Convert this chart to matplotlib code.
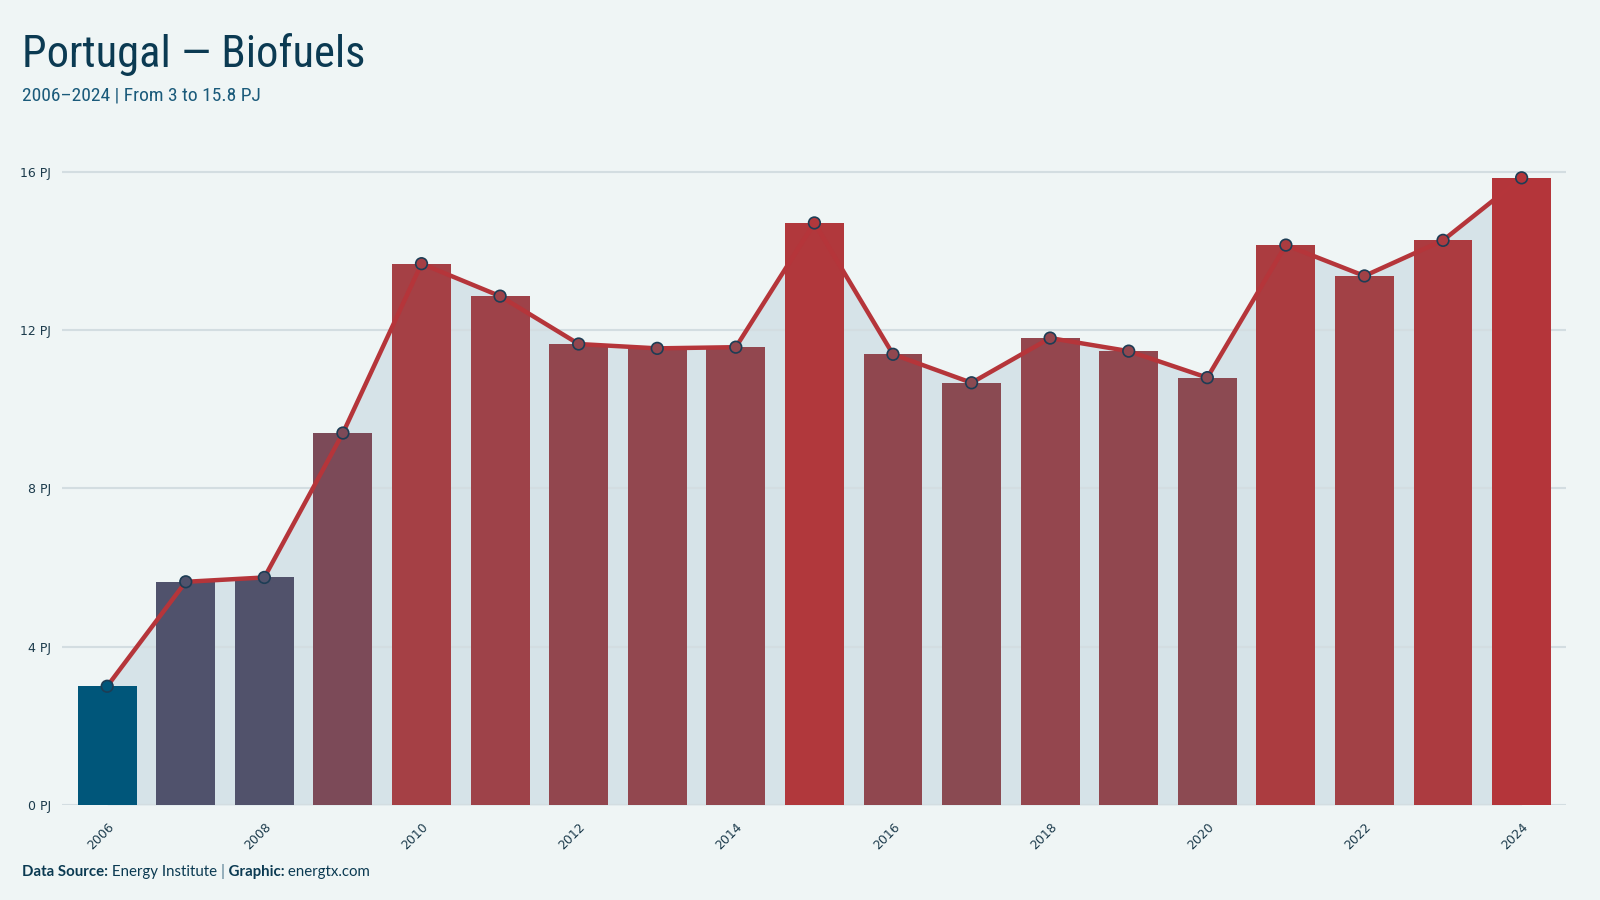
import numpy as np
import matplotlib
matplotlib.use("Agg")
import matplotlib.pyplot as plt
from matplotlib.colors import LinearSegmentedColormap, Normalize

# Data
years = [2006, 2007, 2008, 2009, 2010, 2011, 2012, 2013, 2014, 2015,
         2016, 2017, 2018, 2019, 2020, 2021, 2022, 2023, 2024]
biofuels_pj = [3.0, 5.64, 5.75, 9.40, 13.68, 12.86, 11.65, 11.54, 11.57, 14.71,
               11.39, 10.67, 11.80, 11.47, 10.80, 14.15, 13.37, 14.27, 15.85]
y_ticks = [0, 4, 8, 12, 16]
x_ticks = [2006, 2008, 2010, 2012, 2014, 2016, 2018, 2020, 2022, 2024]

BG = "#eff5f5"
NAVY = "#0b3a52"
LINE_RED = "#b5353a"
FILL = "#d6e3e8"

cmap = LinearSegmentedColormap.from_list(
    "blue_red",
    [(0.0, "#00567a"), (0.2, "#4f526c"), (0.5, "#7c4a58"), (0.6, "#8b4a52"),
     (0.68, "#93464e"), (0.83, "#a54045"), (0.92, "#b2373b"), (1.0, "#b4353a")],
)
norm = Normalize(min(biofuels_pj), max(biofuels_pj))
bar_colors = [cmap(norm(v)) for v in biofuels_pj]

fig = plt.figure(figsize=(16, 9), dpi=100, facecolor=BG)
ax = fig.add_axes([0.039, 0.1056, 0.94, 0.721])
ax.set_facecolor(BG)

# area under the line
ax.fill_between(years, biofuels_pj, 0, color=FILL, zorder=1, linewidth=0)

# grid
for t in y_ticks:
    ax.axhline(t, color="#d3dde1", linewidth=1.5, zorder=2)

ax.bar(years, biofuels_pj, width=0.75, color=bar_colors, zorder=3, linewidth=0)
ax.plot(years, biofuels_pj, color=LINE_RED, linewidth=3.2, zorder=4,
        solid_capstyle="round")
ax.scatter(years, biofuels_pj, s=70, c=bar_colors, edgecolors="#1d3d55",
           linewidths=1.2, zorder=5)

ax.set_xlim(2005.43, 2024.57)
ax.set_ylim(0, 16.4)
ax.set_yticks(y_ticks)
ax.set_yticklabels([f"{t} PJ" for t in y_ticks])
ax.set_xticks(x_ticks)
ax.set_xticklabels([str(x) for x in x_ticks], rotation=45, ha="right",
                   rotation_mode="anchor")
ax.tick_params(axis="both", length=0, labelsize=9, labelcolor="#1b3a4b")
ax.tick_params(axis="y", pad=8)
ax.tick_params(axis="x", pad=11)
for s in ax.spines.values():
    s.set_visible(False)

# Titles
title_font = ["Roboto Condensed", "Open Sans Condensed", "Liberation Sans Narrow",
              "Lato", "DejaVu Sans"]
fig.text(0.0135, 0.925, "Portugal \u2014 Biofuels", fontsize=32, color=NAVY,
         family=title_font, va="baseline")
fig.text(0.0135, 0.888, "2006\u20132024 | From 3 to 15.8 PJ", fontsize=14,
         color="#1a5a7a", family=title_font, va="baseline")

# Footer
foot = ["Lato", "DejaVu Sans"]
fs = 10.8
t1 = fig.text(0.0135, 0.027, "Data Source:", fontsize=fs, fontweight="bold",
              color=NAVY, va="baseline", family=foot)
t2 = ax.annotate(" Energy Institute ", xycoords=t1, xy=(1, 0), va="bottom",
                 fontsize=fs, color=NAVY, family=foot)
t3 = ax.annotate("|", xycoords=t2, xy=(1, 0), va="bottom", fontsize=fs,
                 color="#7a9aaa", fontweight="bold", family=foot)
t4 = ax.annotate(" Graphic:", xycoords=t3, xy=(1, 0), va="bottom", fontsize=fs,
                 color=NAVY, fontweight="bold", family=foot)
ax.annotate(" energtx.com", xycoords=t4, xy=(1, 0), va="bottom", fontsize=fs,
            color=NAVY, family=foot)

fig.savefig("out.png", dpi=100, facecolor=BG)
